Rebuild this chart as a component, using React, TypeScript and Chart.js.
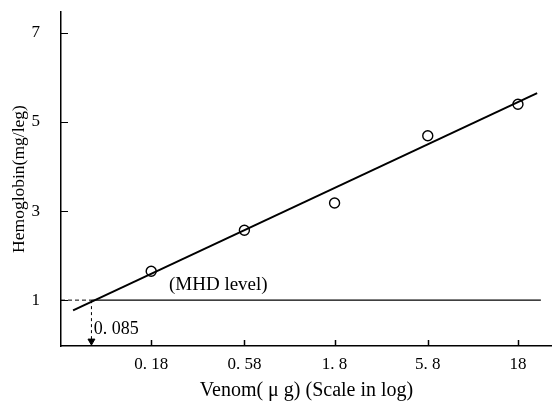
import React, { useEffect, useRef } from "react";
import { Chart, registerables } from "chart.js";

Chart.register(...registerables);

// Data
const doses = [0.18, 0.58, 1.8, 5.8, 18];
const hemoglobin = [1.65, 2.57, 3.18, 4.69, 5.4];
const xTickValues = [0.18, 0.58, 1.8, 5.8, 18];
const xTickLabels = ["0. 18", "0. 58", "1. 8", "5. 8", "18"];
const yTickValues = [1, 3, 5, 7];
const fitX = [0.0675, 22.9];
const fitY = [0.77, 5.65];
const mhdLevel = 1;
const mhdDose = 0.085;
const mhdLineEnd = 24;
const xMin = 0.058;
const xMax = 27.6;
const yMin = -0.03;
const yMax = 7.47;
const labelTexts = ["(MHD level)", "0. 085"];
const labelX = [0.225, 0.0875];
const labelY = [1.34, 0.35];
const labelSizes = [19, 18];

const SERIF = "'Liberation Serif', 'DejaVu Serif', serif";

const inwardTicks = {
  id: "inwardTicks",
  afterDatasetsDraw(chart: any) {
    const { ctx, chartArea, scales } = chart;
    ctx.save();
    ctx.strokeStyle = "#000";
    ctx.lineWidth = 1.5;
    xTickValues.forEach((v) => {
      const px = Math.round(scales.x.getPixelForValue(v)) + 0.5;
      ctx.beginPath();
      ctx.moveTo(px, chartArea.bottom);
      ctx.lineTo(px, chartArea.bottom - 6);
      ctx.stroke();
    });
    ctx.lineWidth = 1;
    yTickValues.forEach((v) => {
      const py = Math.round(scales.y.getPixelForValue(v)) + 0.5;
      ctx.beginPath();
      ctx.moveTo(chartArea.left, py);
      ctx.lineTo(chartArea.left + 7, py);
      ctx.stroke();
    });
    ctx.fillStyle = "#000";
    ctx.textBaseline = "middle";
    ctx.textAlign = "left";
    labelTexts.forEach((t, i) => {
      ctx.font = labelSizes[i] + "px " + SERIF;
      ctx.fillText(t, scales.x.getPixelForValue(labelX[i]), scales.y.getPixelForValue(labelY[i]));
    });
    ctx.restore();
  },
};

export default function App() {
  const ref = useRef<HTMLCanvasElement | null>(null);

  useEffect(() => {
    document.body.style.margin = "0";
    const canvas = ref.current;
    if (!canvas) return;
    const chart = new Chart(canvas, {
      type: "scatter",
      data: {
        datasets: [
          {
            label: "fit",
            data: fitX.map((x, i) => ({ x, y: fitY[i] })),
            showLine: true,
            borderColor: "#000",
            borderWidth: 2,
            pointRadius: 0,
          },
          {
            label: "MHD level",
            data: [
              { x: mhdDose, y: mhdLevel },
              { x: mhdLineEnd, y: mhdLevel },
            ],
            showLine: true,
            borderColor: "#000",
            borderWidth: 1.2,
            pointRadius: 0,
          },
          {
            label: "MHD dashed",
            data: [
              { x: xMin, y: mhdLevel },
              { x: mhdDose, y: mhdLevel },
            ],
            showLine: true,
            borderColor: "#000",
            borderWidth: 1,
            borderDash: [4, 3],
            pointRadius: 0,
          },
          {
            label: "MHD drop",
            data: [
              { x: mhdDose, y: mhdLevel },
              { x: mhdDose, y: 0.08 },
            ],
            showLine: true,
            borderColor: "#000",
            borderWidth: 1,
            borderDash: [3, 3],
            pointRadius: [0, 4],
            pointStyle: "triangle",
            rotation: 180,
            pointBackgroundColor: "#000",
            pointBorderColor: "#000",
          },
          {
            label: "Hemoglobin",
            data: doses.map((x, i) => ({ x, y: hemoglobin[i] })),
            showLine: false,
            pointRadius: 5,
            pointBorderWidth: 1.4,
            pointBorderColor: "#000",
            pointBackgroundColor: "#fff",
          },
        ],
      },
      options: {
        animation: false,
        responsive: true,
        maintainAspectRatio: false,
        layout: { autoPadding: false, padding: { top: 12, right: 0, left: 0, bottom: 0 } },
        plugins: {
          legend: { display: false },
          tooltip: { enabled: false },
        },
        scales: {
          x: {
            type: "logarithmic",
            min: xMin,
            max: xMax,
            afterBuildTicks: (scale: any) => {
              scale.ticks = xTickValues.map((v) => ({ value: v }));
            },
            afterFit: (scale: any) => {
              scale.height = 57;
              scale.paddingLeft = 0;
              scale.paddingRight = 0;
            },
            grid: { display: false, drawTicks: false },
            border: { display: true, color: "#000", width: 1.5 },
            ticks: {
              autoSkip: false,
              maxRotation: 0,
              padding: 8,
              color: "#000",
              font: { family: SERIF, size: 17 },
              callback: (_v: any, i: number) => xTickLabels[i],
            },
            title: {
              display: true,
              text: "Venom( μ g) (Scale in log)",
              color: "#000",
              font: { family: SERIF, size: 20 },
              padding: { top: 0, bottom: 0 },
            },
          },
          y: {
            type: "linear",
            min: yMin,
            max: yMax,
            afterBuildTicks: (scale: any) => {
              scale.ticks = yTickValues.map((v) => ({ value: v }));
            },
            afterFit: (scale: any) => {
              scale.width = 61;
              scale.paddingTop = 0;
              scale.paddingBottom = 0;
            },
            grid: { display: false, drawTicks: false },
            border: { display: true, color: "#000", width: 1.5 },
            ticks: {
              padding: 21,
              color: "#000",
              font: { family: SERIF, size: 17 },
            },
            title: {
              display: true,
              text: "Hemoglobin(mg/leg)",
              color: "#000",
              font: { family: SERIF, size: 17.5 },
              padding: { top: 9, bottom: 0 },
            },
          },
        },
      },
      plugins: [inwardTicks],
    } as any);
    return () => chart.destroy();
  }, []);

  return (
    <div style={{ position: "fixed", left: 0, top: 0, width: 552, height: 403 }}>
      <canvas ref={ref} />
    </div>
  );
}
